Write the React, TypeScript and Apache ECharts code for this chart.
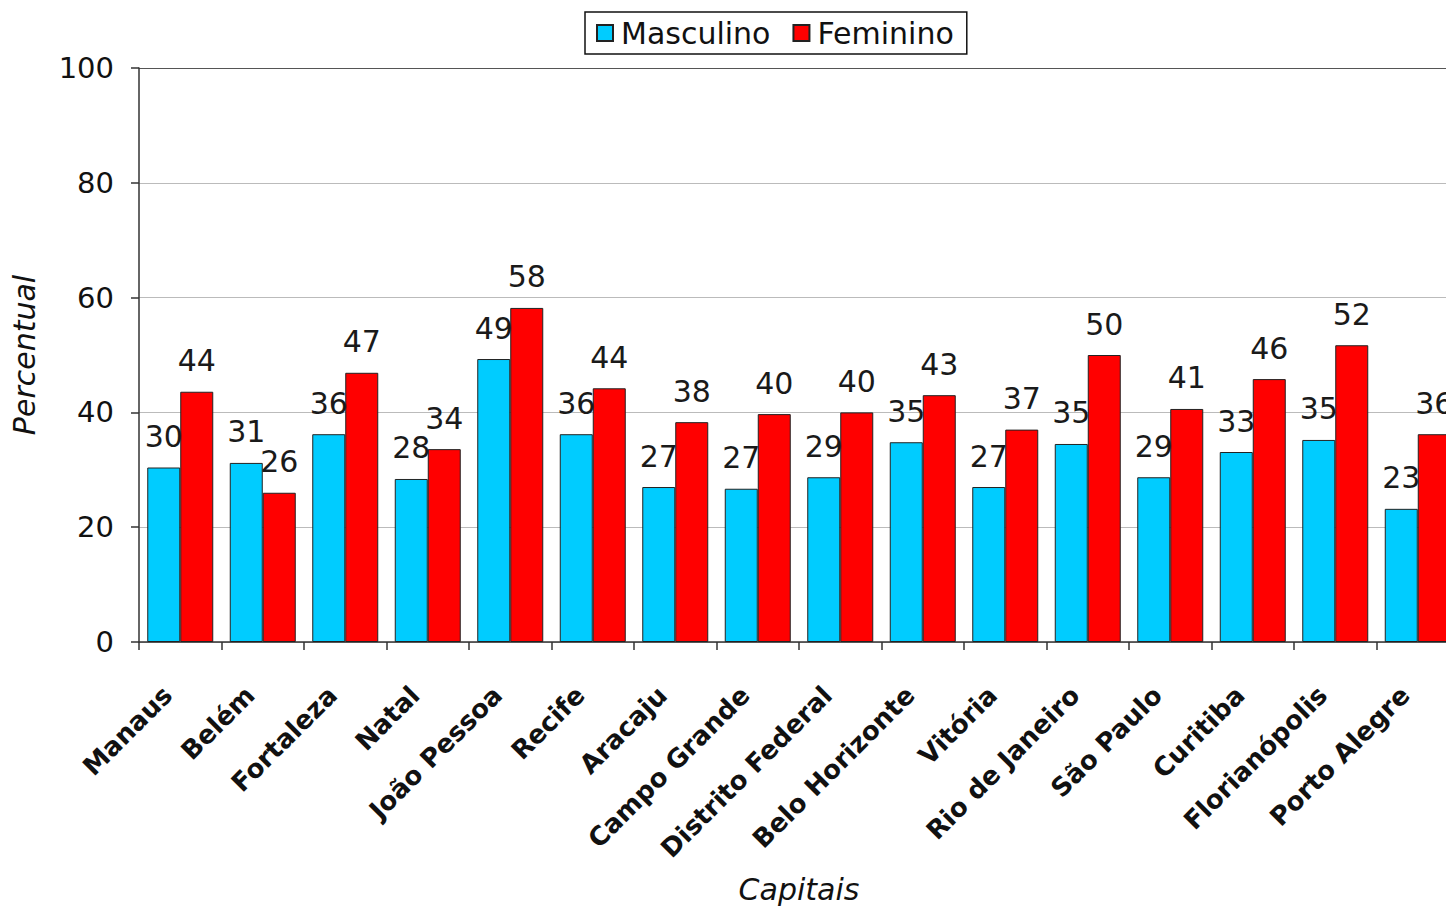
import React, { useEffect, useRef } from "react";
import * as echarts from "echarts";

const categories = [
  "Manaus", "Belém", "Fortaleza", "Natal", "João Pessoa", "Recife", "Aracaju",
  "Campo Grande", "Distrito Federal", "Belo Horizonte", "Vitória",
  "Rio de Janeiro", "São Paulo", "Curitiba", "Florianópolis", "Porto Alegre",
];
const masculino = [30.4, 31.2, 36.2, 28.4, 49.3, 36.2, 27.0, 26.7, 28.7, 34.8, 27.0, 34.5, 28.7, 33.1, 35.2, 23.2];
const feminino = [43.6, 26.0, 46.9, 33.6, 58.2, 44.2, 38.3, 39.7, 40.0, 43.0, 37.0, 50.0, 40.6, 45.8, 51.7, 36.2];
const seriesNames = ["Masculino", "Feminino"];
const yTicks = { min: 0, max: 100, interval: 20 };

const FONT = "'DejaVu Sans', Verdana, sans-serif";

export default function App() {
  const ref = useRef<HTMLDivElement>(null);
  useEffect(() => {
    if (!ref.current) return;
    const chart = echarts.init(ref.current, undefined, { renderer: "svg" });
    const label = {
      show: true,
      position: "top",
      distance: 16,
      color: "#1a1a1a",
      fontFamily: FONT,
      fontSize: 30,
      formatter: (p: any) => String(Math.round(p.value)),
    };
    chart.setOption({
      animation: false,
      backgroundColor: "#ffffff",
      legend: {
        left: 585,
        top: 12,
        padding: [6, 13, 6, 11],
        itemWidth: 16,
        itemHeight: 16,
        itemGap: 22,
        borderColor: "#111",
        borderWidth: 1.5,
        backgroundColor: "#fff",
        icon: "rect",
        textStyle: { fontFamily: FONT, fontSize: 30, color: "#111", padding: [0, 0, 0, 3] },
        data: seriesNames,
      },
      grid: { left: 139, top: 68, bottom: 267, right: 0, containLabel: false },
      xAxis: {
        type: "category",
        data: categories,
        name: "Capitais",
        nameLocation: "middle",
        nameGap: 232,
        nameTextStyle: { fontFamily: FONT, fontSize: 30, fontStyle: "italic", color: "#111" },
        axisLine: { lineStyle: { color: "#333", width: 1.5 } },
        axisTick: { show: true, length: 8, lineStyle: { color: "#333", width: 1.5 } },
        axisLabel: {
          rotate: 45,
          margin: 36,
          interval: 0,
          fontFamily: FONT,
          fontWeight: "bold",
          fontSize: 26,
          color: "#111",
          padding: [0, 18, 0, 0],
        },
      },
      yAxis: {
        type: "value",
        min: yTicks.min,
        max: yTicks.max,
        interval: yTicks.interval,
        name: "Percentual",
        nameLocation: "middle",
        nameGap: 100,
        nameTextStyle: { fontFamily: FONT, fontSize: 30, fontStyle: "italic", color: "#111" },
        axisLine: { show: true, lineStyle: { color: "#333", width: 1.5 } },
        axisTick: { show: true, length: 8, lineStyle: { color: "#333", width: 1.5 } },
        axisLabel: { margin: 25, fontFamily: FONT, fontSize: 29, color: "#111" },
        splitLine: {
          show: true,
          lineStyle: { color: ["#bbb", "#bbb", "#bbb", "#bbb", "#bbb", "#555"], width: 1 },
        },
      },
      series: [
        {
          name: seriesNames[0],
          type: "bar",
          data: masculino,
          barGap: "0%",
          barCategoryGap: "20%",
          itemStyle: { color: "#00CCFF", borderColor: "#222", borderWidth: 1 },
          label,
        },
        {
          name: seriesNames[1],
          type: "bar",
          data: feminino,
          barGap: "0%",
          barCategoryGap: "20%",
          itemStyle: { color: "#FF0000", borderColor: "#222", borderWidth: 1 },
          label,
        },
      ],
    });
    return () => chart.dispose();
  }, []);
  return (
    <div
      style={{ position: "absolute", left: 0, top: 0, width: 1446, height: 909, overflow: "hidden", background: "#fff" }}
    >
      <div ref={ref} style={{ width: 1459, height: 909 }} />
    </div>
  );
}
